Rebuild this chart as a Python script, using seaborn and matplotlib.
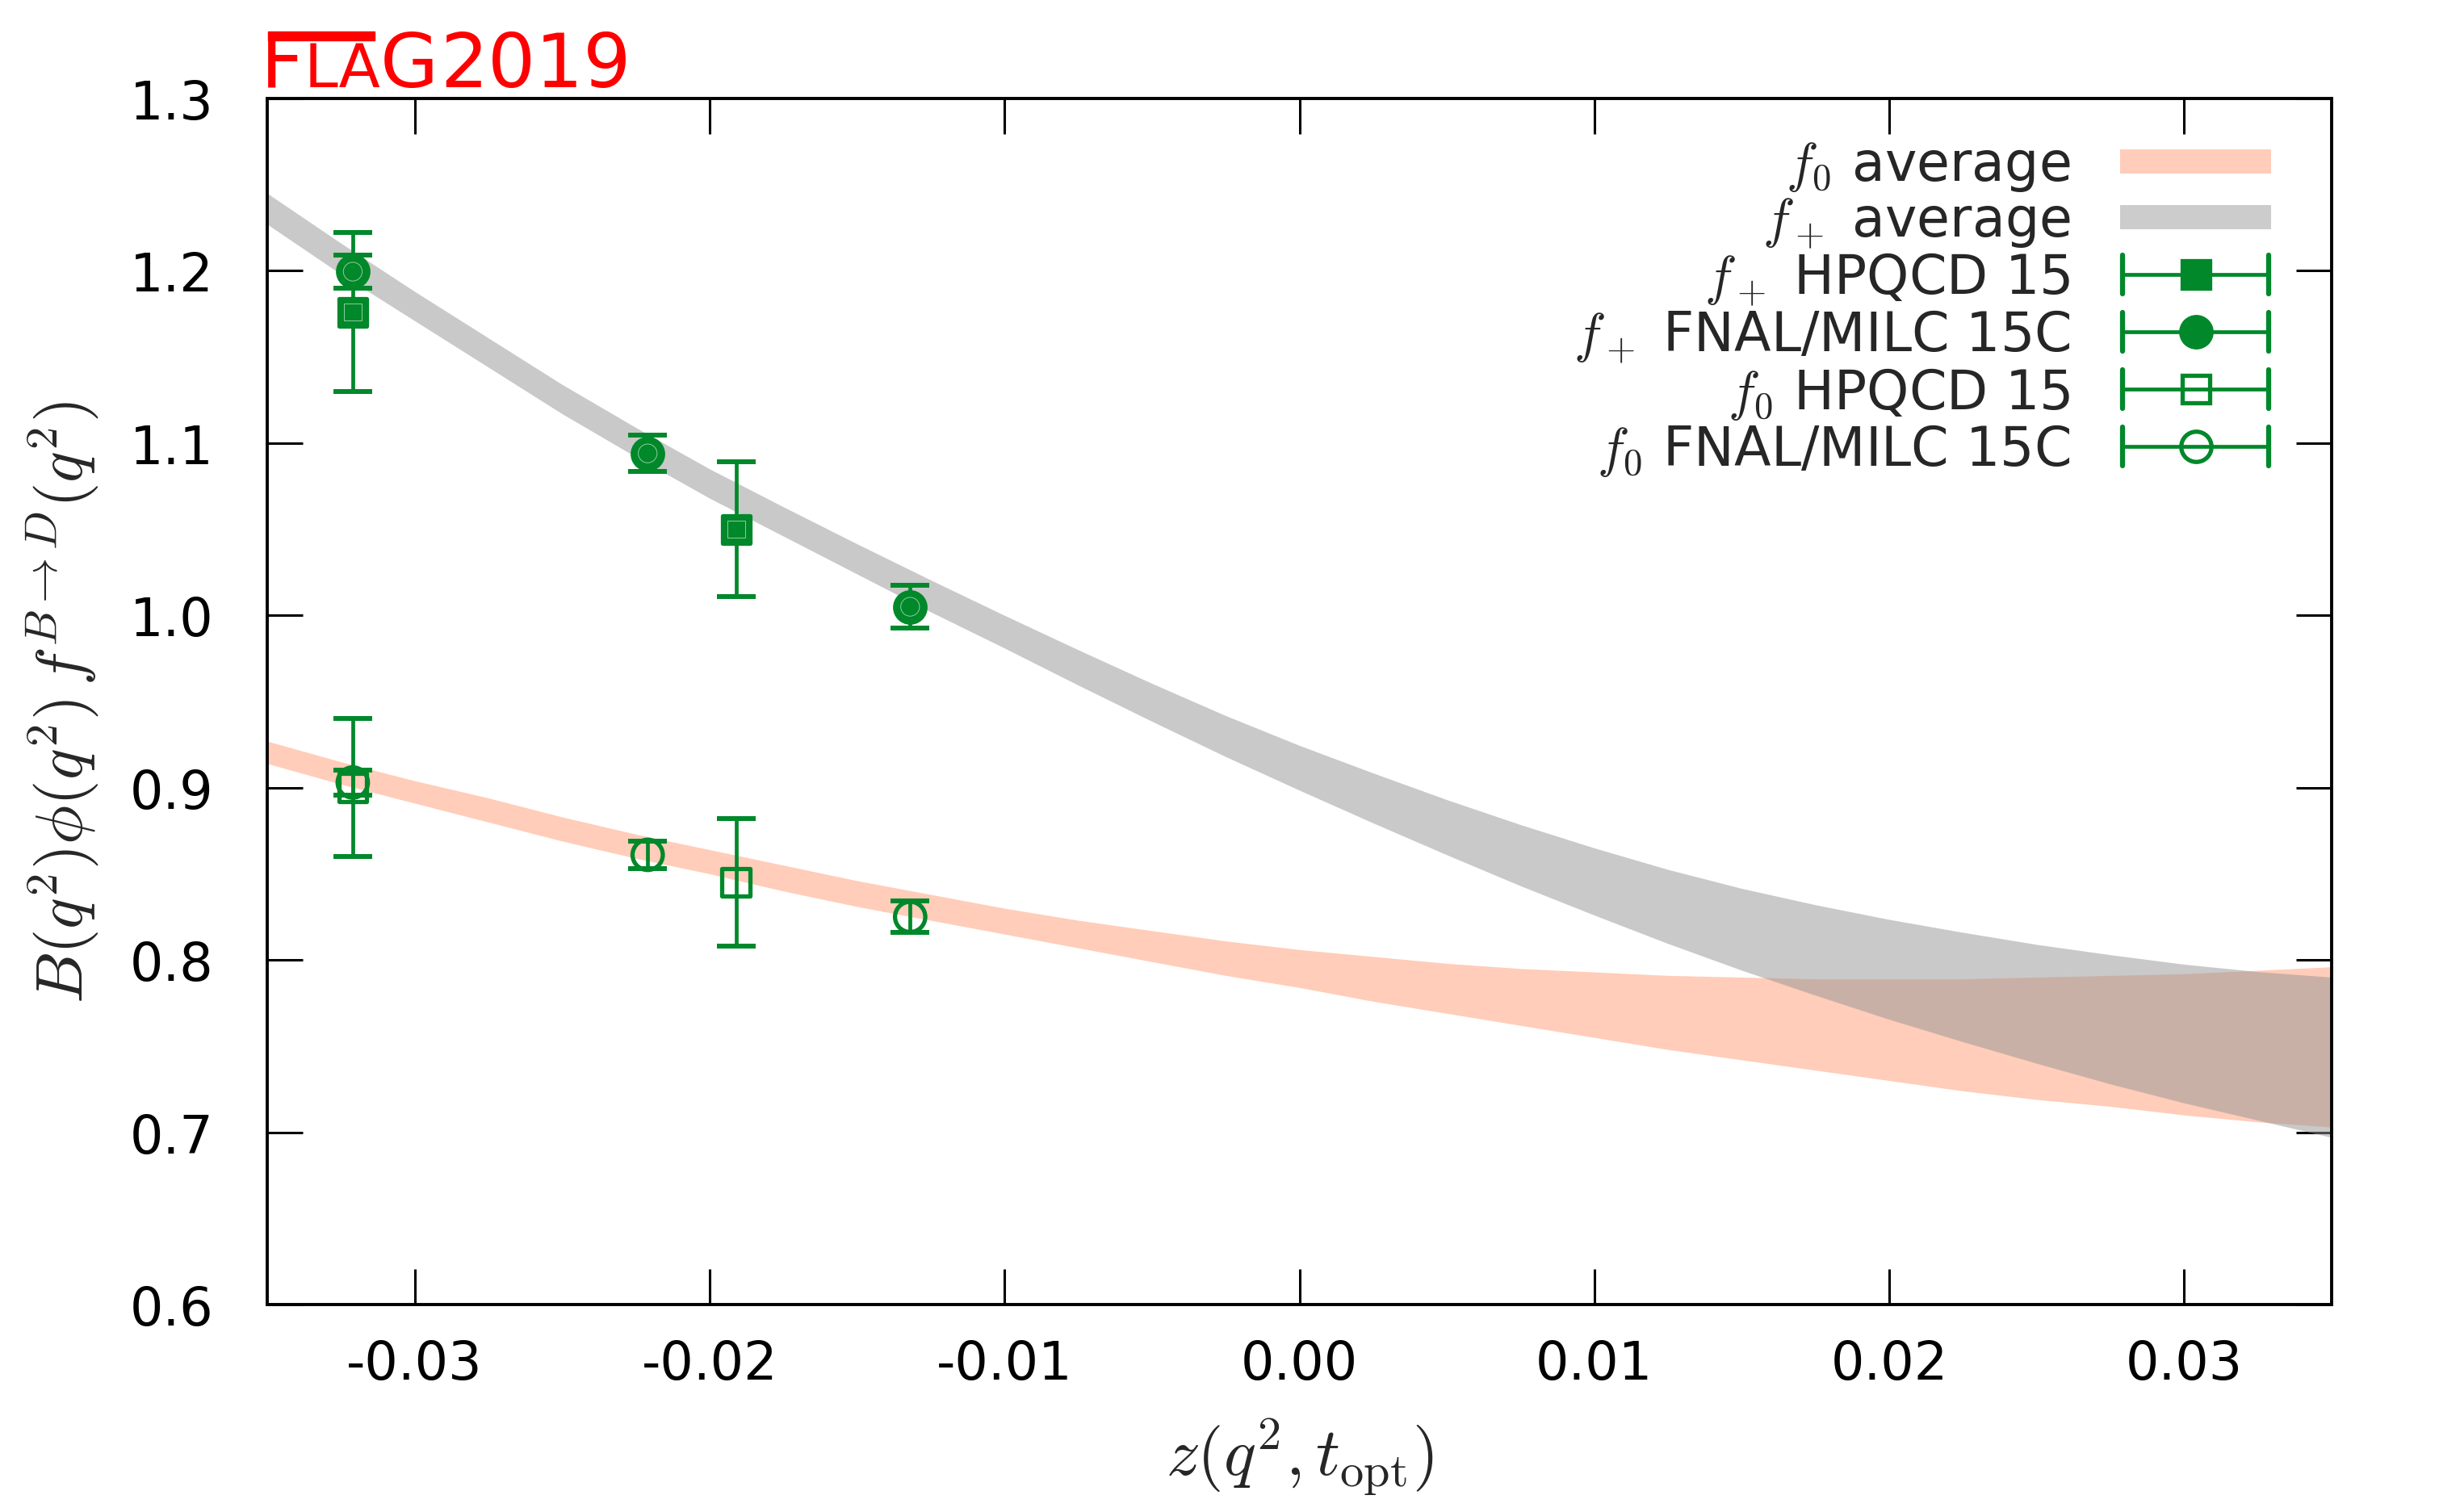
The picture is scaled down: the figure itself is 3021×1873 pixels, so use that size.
import numpy as np
import pandas as pd
import matplotlib
matplotlib.use("Agg")
import matplotlib.pyplot as plt
import seaborn as sns
from matplotlib.lines import Line2D
from matplotlib.patches import Rectangle, Patch
from matplotlib.legend_handler import HandlerBase

# ---------------- data ----------------
z_band = [-0.035, -0.0325, -0.030, -0.0275, -0.025, -0.0225, -0.020, -0.0175,
          -0.015, -0.0125, -0.010, -0.0075, -0.005, -0.0025, 0.000, 0.0025,
          0.005, 0.0075, 0.010, 0.0125, 0.015, 0.0175, 0.020, 0.0225,
          0.025, 0.0275, 0.030, 0.0325, 0.035]
fplus_upper = [1.245, 1.216, 1.188, 1.161, 1.134, 1.109, 1.085, 1.063,
               1.0415, 1.0205, 1.000, 0.980, 0.9605, 0.9418, 0.9245, 0.9085,
               0.893, 0.8785, 0.865, 0.8525, 0.8415, 0.832, 0.8235, 0.816,
               0.809, 0.803, 0.7975, 0.7932, 0.790]
fplus_lower = [1.227, 1.198, 1.171, 1.144, 1.117, 1.092, 1.068, 1.046,
               1.024, 1.002, 0.981, 0.9595, 0.9385, 0.918, 0.8985, 0.8795,
               0.861, 0.843, 0.826, 0.8095, 0.794, 0.7795, 0.7655, 0.7525,
               0.740, 0.728, 0.717, 0.707, 0.697]
fzero_upper = [0.927, 0.915, 0.904, 0.894, 0.883, 0.873, 0.864, 0.855,
               0.846, 0.838, 0.830, 0.823, 0.817, 0.811, 0.806, 0.802,
               0.798, 0.795, 0.793, 0.791, 0.790, 0.789, 0.789, 0.789,
               0.790, 0.791, 0.792, 0.794, 0.796]
fzero_lower = [0.914, 0.902, 0.891, 0.880, 0.869, 0.859, 0.850, 0.840,
               0.831, 0.823, 0.815, 0.807, 0.799, 0.791, 0.784, 0.776,
               0.769, 0.762, 0.755, 0.748, 0.742, 0.736, 0.730, 0.724,
               0.719, 0.715, 0.710, 0.706, 0.703]

z_hpqcd = [-0.0321, -0.0191]
fplus_hpqcd = [1.176, 1.050]
fplus_hpqcd_err = [0.046, 0.039]
fzero_hpqcd = [0.900, 0.845]
fzero_hpqcd_err = [0.040, 0.037]

z_fnal = [-0.0321, -0.0221, -0.0132]
fplus_fnal = [1.1995, 1.094, 1.005]
fplus_fnal_err = [0.0095, 0.0104, 0.0124]
fzero_fnal = [0.903, 0.861, 0.825]
fzero_fnal_err = [0.0072, 0.0078, 0.0092]

x_ticks = [-0.03, -0.02, -0.01, 0.00, 0.01, 0.02, 0.03]
x_ticklabels = ["-0.03", "-0.02", "-0.01", "0.00", "0.01", "0.02", "0.03"]
y_ticks = [0.6, 0.7, 0.8, 0.9, 1.0, 1.1, 1.2, 1.3]
y_ticklabels = ["0.6", "0.7", "0.8", "0.9", "1.0", "1.1", "1.2", "1.3"]

labels = ["$f_0$ average", "$f_+$ average", "$f_+$ HPQCD 15",
          "$f_+$ FNAL/MILC 15C", "$f_0$ HPQCD 15", "$f_0$ FNAL/MILC 15C"]

# ---------------- style ----------------
sns.set_theme(style="ticks")
plt.rcParams["font.family"] = ["DejaVu Sans"]
plt.rcParams["mathtext.fontset"] = "cm"
plt.rcParams["axes.unicode_minus"] = False

GREEN = "#00882a"
SALMON = "#ffcdb9"
GRAY = (0.58, 0.58, 0.58, 0.5)

W, H = 3021, 1874
fig = plt.figure(figsize=(W / 100, H / 100), dpi=100)
ax = fig.add_axes([331 / W, 1 - 1617 / H, (2888 - 331) / W, (1617 - 123) / H])

band = pd.DataFrame({"z": z_band, "fp_lo": fplus_lower, "fp_hi": fplus_upper,
                     "f0_lo": fzero_lower, "f0_hi": fzero_upper})
ax.fill_between(band["z"], band["f0_lo"], band["f0_hi"], color=SALMON, lw=0, zorder=1)
ax.fill_between(band["z"], band["fp_lo"], band["fp_hi"], color=GRAY, lw=0, zorder=2)

ebkw = dict(fmt="none", ecolor=GREEN, elinewidth=3.4, capsize=17.5, capthick=4.3, zorder=3)
ax.errorbar(z_hpqcd, fplus_hpqcd, yerr=fplus_hpqcd_err, **ebkw)
ax.errorbar(z_fnal, fplus_fnal, yerr=fplus_fnal_err, **ebkw)
ax.errorbar(z_hpqcd, fzero_hpqcd, yerr=fzero_hpqcd_err, **ebkw)
ax.errorbar(z_fnal, fzero_fnal, yerr=fzero_fnal_err, **ebkw)

SQ_MS = 25.0
CI_MS = 27.0
MEW = 3.8
sns.scatterplot(x=z_hpqcd, y=fplus_hpqcd, ax=ax, marker="s", s=SQ_MS ** 2,
                facecolor=GREEN, edgecolor=GREEN, linewidth=MEW, legend=False, zorder=5)
sns.scatterplot(x=z_fnal, y=fplus_fnal, ax=ax, marker="o", s=CI_MS ** 2,
                facecolor=GREEN, edgecolor=GREEN, linewidth=MEW, legend=False, zorder=5)
# faint inner outline of the filled symbols
sns.scatterplot(x=z_hpqcd, y=fplus_hpqcd, ax=ax, marker="s", s=(SQ_MS * 0.62) ** 2,
                facecolor="none", edgecolor="#8fcf9f", linewidth=0.7, legend=False, zorder=6)
sns.scatterplot(x=z_fnal, y=fplus_fnal, ax=ax, marker="o", s=(CI_MS * 0.62) ** 2,
                facecolor="none", edgecolor="#8fcf9f", linewidth=0.7, legend=False, zorder=6)
sns.scatterplot(x=z_hpqcd, y=fzero_hpqcd, ax=ax, marker="s", s=SQ_MS ** 2,
                facecolor="none", edgecolor=GREEN, linewidth=MEW, legend=False, zorder=5)
sns.scatterplot(x=z_fnal, y=fzero_fnal, ax=ax, marker="o", s=CI_MS ** 2,
                facecolor="none", edgecolor=GREEN, linewidth=MEW, legend=False, zorder=5)

ax.set_xlim(-0.035, 0.035)
ax.set_ylim(0.6, 1.3)
ax.set_xticks(x_ticks)
ax.set_xticklabels(x_ticklabels)
ax.set_yticks(y_ticks)
ax.set_yticklabels(y_ticklabels)
ax.tick_params(axis="both", which="both", direction="in", length=32, width=2.2,
               top=True, right=True, labelsize=47, color="black", labelcolor="black")
ax.tick_params(axis="y", pad=48)
ax.tick_params(axis="x", pad=30)
for sp in ax.spines.values():
    sp.set_linewidth(2.8)
    sp.set_color("black")
    sp.set_visible(True)
ax.set_facecolor("white")
ax.grid(False)

ax.set_ylabel(r"$B(q^2)\phi(q^2)\,f^{B\to D}(q^2)$", fontsize=58, va="center")
ax.yaxis.set_label_coords(-0.0993, 0.5)
ax.set_xlabel(r"$z(q^2,t_{\rm opt})$", fontsize=60, va="center")
ax.xaxis.set_label_coords(0.5, -0.1258)


# ---------------- legend ----------------
class HandlerBand(HandlerBase):
    def create_artists(self, legend, orig_handle, xdescent, ydescent, width,
                       height, fontsize, trans):
        h = 0.45 * fontsize
        yc = (height - ydescent) / 2
        r = Rectangle((-xdescent, yc - h / 2), width, h,
                      facecolor=orig_handle.get_facecolor(), edgecolor="none",
                      transform=trans)
        return [r]


class HandlerHErr(HandlerBase):
    def create_artists(self, legend, orig_handle, xdescent, ydescent, width,
                       height, fontsize, trans):
        yc = (height - ydescent) / 2
        x0, x1 = -xdescent + 2, -xdescent + width - 2
        c = orig_handle.get_color()
        ch = 0.72 * fontsize
        arts = [Line2D([x0, x1], [yc, yc], color=c, lw=3.4, transform=trans),
                Line2D([x0, x0], [yc - ch / 2, yc + ch / 2], color=c, lw=4.5,
                       solid_capstyle="round", transform=trans),
                Line2D([x1, x1], [yc - ch / 2, yc + ch / 2], color=c, lw=4.5,
                       solid_capstyle="round", transform=trans),
                Line2D([(x0 + x1) / 2], [yc], ls="none",
                       marker=orig_handle.get_marker(),
                       ms=orig_handle.get_markersize(),
                       mfc=orig_handle.get_markerfacecolor(), mec=c,
                       mew=orig_handle.get_markeredgewidth(), transform=trans)]
        return arts


h_f0 = Patch(facecolor=SALMON)
h_fp = Patch(facecolor=(0.8, 0.8, 0.8))
h1 = Line2D([], [], color=GREEN, marker="s", ms=SQ_MS, mfc=GREEN, mew=MEW)
h2 = Line2D([], [], color=GREEN, marker="o", ms=CI_MS, mfc=GREEN, mew=MEW)
h3 = Line2D([], [], color=GREEN, marker="s", ms=SQ_MS, mfc="none", mew=MEW)
h4 = Line2D([], [], color=GREEN, marker="o", ms=CI_MS, mfc="none", mew=MEW)
hmap = {h_f0: HandlerBand(), h_fp: HandlerBand(), h1: HandlerHErr(),
        h2: HandlerHErr(), h3: HandlerHErr(), h4: HandlerHErr()}
leg = ax.legend([h_f0, h_fp, h1, h2, h3, h4], labels, handler_map=hmap,
                loc="upper right", bbox_to_anchor=(2813 / W, 1 - 172 / H),
                bbox_transform=fig.transFigure, frameon=False, fontsize=48,
                markerfirst=False, handlelength=2.80, handletextpad=0.93,
                labelspacing=0.02, borderpad=0, borderaxespad=0)

# ---------------- FLAG 2019 logo ----------------
RED = "#ff0000"
fig.text(323 / W, 1 - 108 / H, "F", fontsize=67, color=RED, ha="left", va="baseline")
fig.text(377 / W, 1 - 108 / H, "LA", fontsize=54, color=RED, ha="left", va="baseline")
fig.text(471 / W, 1 - 108 / H, "G", fontsize=67, color=RED, ha="left", va="baseline")
fig.text(545 / W, 1 - 108 / H, "2019", fontsize=67, color=RED, ha="left", va="baseline")
fig.patches.append(Rectangle((332 / W, 1 - 51 / H), 132 / W, 11.5 / H,
                             transform=fig.transFigure, color=RED))

fig.savefig("out.png", dpi=100, facecolor="white")
